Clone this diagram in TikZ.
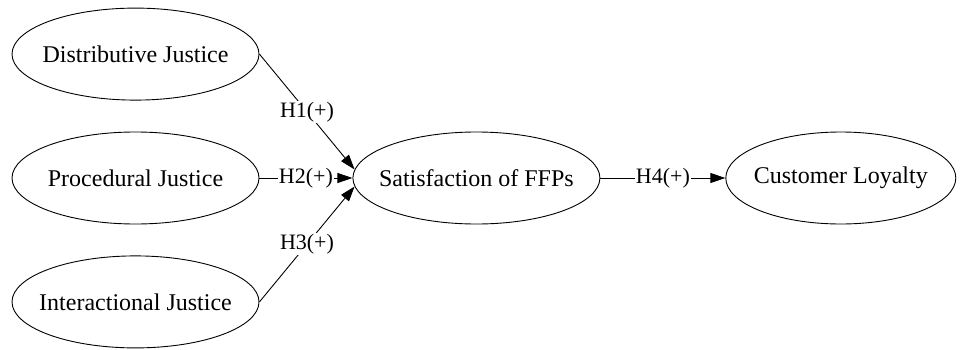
\documentclass[tikz,border=0pt]{standalone}
\usepackage{fontspec}
\setmainfont{Liberation Serif}
\usepackage{tikz}
\usetikzlibrary{shapes.geometric, arrows.meta, positioning}
\tikzset{
    construct/.style={ellipse, draw=black, line width=0.9pt, inner xsep=-25pt, inner ysep=0pt, minimum width=247pt, minimum height=92pt, text centered, font=\fontsize{24}{28}\selectfont},
    hyp/.style={fill=white, inner sep=1pt, font=\fontsize{22}{26}\selectfont},
    arrow/.style={line width=0.9pt, -{Triangle[length=15pt, width=10pt]}}
}

\begin{document}
\begin{tikzpicture}[x=1pt, y=1pt]
    \useasboundingbox (0,0) rectangle (960,349);
    \node (proc) [construct] at (135.5,171) {Procedural Justice};
    \node (dist) [construct, above=31pt of proc] {Distributive Justice};
    \node (inter) [construct, below=31pt of proc] {Interactional Justice};
    \node (sat) [construct, right=93pt of proc] {Satisfaction of FFPs};
    \node (loyal) [construct, minimum width=230pt, right=125pt of sat] {Customer Loyalty};

    \draw [arrow] (dist.east) -- node[hyp] {H1(+)} (sat.176);
    \draw [arrow] (proc.east) -- node[hyp] {H2(+)} (sat.west);
    \draw [arrow] (inter.east) -- node[hyp] {H3(+)} (sat.184);
    \draw [arrow] (sat.east) -- node[hyp] {H4(+)} (loyal.west);
\end{tikzpicture}
\end{document}
